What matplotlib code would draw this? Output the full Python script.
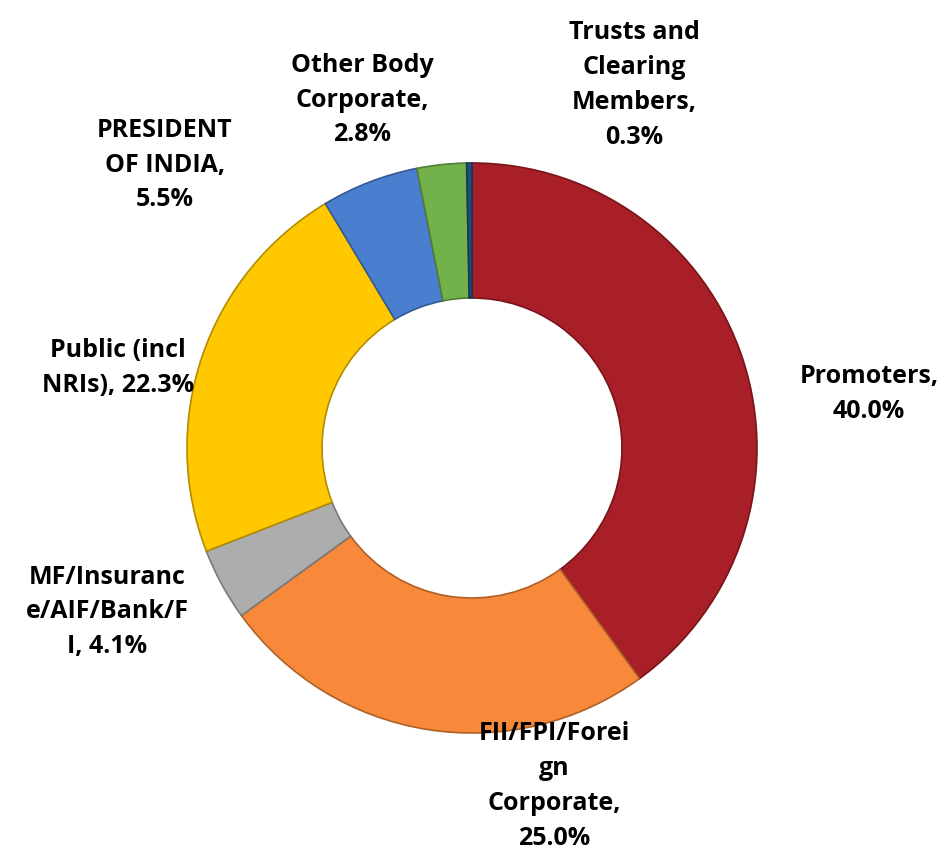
import matplotlib.pyplot as plt
import matplotlib.colors as mcolors

labels = ['Promoters,\n40.0%', 'FII/FPI/Forei\ngn\nCorporate,\n25.0%',
          'MF/Insuranc\ne/AIF/Bank/F\nI, 4.1%', 'Public (incl\nNRIs), 22.3%',
          'PRESIDENT\nOF INDIA,\n5.5%', 'Other Body\nCorporate,\n2.8%',
          'Trusts and\nClearing\nMembers,\n0.3%']
values = [40.0, 25.0, 4.1, 22.3, 5.5, 2.8, 0.3]
colors = ['#A91F27', '#F8893A', '#ADADAD', '#FFC800', '#4A7FD0', '#73B24B', '#1F4E79']

# label centres in pixels (x from left, y from top)
label_pos = [(869, 394), (554, 786), (107, 612), (118, 368),
             (165, 165), (362, 100), (634, 85)]

W, H = 948, 856
fig = plt.figure(figsize=(W / 100, H / 100), dpi=100)
ax = fig.add_axes([0, 0, 1, 1])

edges = [tuple(c * 0.7 for c in mcolors.to_rgb(col)) for col in colors]
wedges, _ = ax.pie(values, colors=colors, startangle=90, counterclock=False,
                   center=(472, H - 448), radius=285, frame=True,
                   wedgeprops=dict(width=135, linewidth=1.2))
for w, e in zip(wedges, edges):
    w.set_edgecolor(e)
ax.set_xlim(0, W)
ax.set_ylim(0, H)
ax.set_aspect('equal')
ax.axis('off')

for lab, (x, y) in zip(labels, label_pos):
    ax.text(x, H - y, lab, ha='center', va='center', fontsize=18,
            fontweight='bold', family='Open Sans', linespacing=1.52,
            color='black')

fig.savefig('out.png', dpi=100)
